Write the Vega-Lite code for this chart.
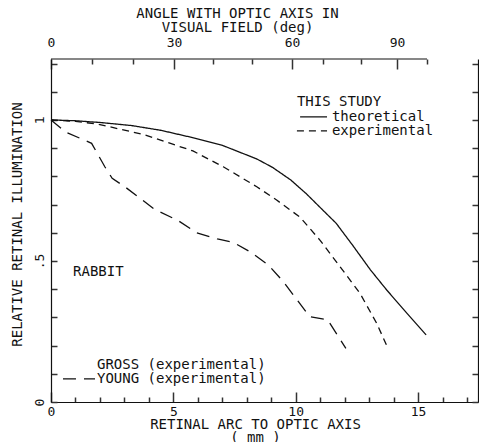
{
  "$schema": "https://vega.github.io/schema/vega-lite/v6.json",
  "width": 427,
  "height": 343,
  "autosize": {"type": "none"},
  "padding": {"left": 51, "top": 59, "right": 1, "bottom": 40},
  "background": "white",
  "config": {
    "view": {"stroke": null},
    "font": "DejaVu Sans Mono",
    "axis": {
      "grid": false,
      "domainColor": "#111",
      "domainWidth": 1.2,
      "labelFont": "DejaVu Sans Mono",
      "labelFontSize": 13,
      "labelColor": "#111",
      "titleFont": "DejaVu Sans Mono",
      "titleFontSize": 14,
      "titleFontWeight": "normal",
      "titleColor": "#111",
      "labelOverlap": false,
      "labelFlush": false
    }
  },
  "datasets": {
    "curves": [
      {"series": "theoretical", "x": 0, "y": 1.0},
      {"series": "theoretical", "x": 1, "y": 0.997},
      {"series": "theoretical", "x": 2, "y": 0.991},
      {"series": "theoretical", "x": 3.3, "y": 0.98},
      {"series": "theoretical", "x": 4.5, "y": 0.963},
      {"series": "theoretical", "x": 5.7, "y": 0.939},
      {"series": "theoretical", "x": 7.0, "y": 0.91},
      {"series": "theoretical", "x": 8.4, "y": 0.862},
      {"series": "theoretical", "x": 9.05, "y": 0.832},
      {"series": "theoretical", "x": 9.8, "y": 0.787},
      {"series": "theoretical", "x": 10.45, "y": 0.737},
      {"series": "theoretical", "x": 11.1, "y": 0.681},
      {"series": "theoretical", "x": 11.65, "y": 0.634},
      {"series": "theoretical", "x": 12.35, "y": 0.553},
      {"series": "theoretical", "x": 13.04, "y": 0.47},
      {"series": "theoretical", "x": 13.72, "y": 0.397},
      {"series": "theoretical", "x": 14.54, "y": 0.315},
      {"series": "theoretical", "x": 15.33, "y": 0.238},
      {"series": "experimental", "x": 0, "y": 1.0},
      {"series": "experimental", "x": 1, "y": 0.995},
      {"series": "experimental", "x": 1.93, "y": 0.985},
      {"series": "experimental", "x": 3.84, "y": 0.947},
      {"series": "experimental", "x": 5.8, "y": 0.89},
      {"series": "experimental", "x": 7.04, "y": 0.834},
      {"series": "experimental", "x": 8.41, "y": 0.763},
      {"series": "experimental", "x": 9.22, "y": 0.716},
      {"series": "experimental", "x": 10.18, "y": 0.655},
      {"series": "experimental", "x": 10.99, "y": 0.574},
      {"series": "experimental", "x": 11.81, "y": 0.48},
      {"series": "experimental", "x": 12.63, "y": 0.385},
      {"series": "experimental", "x": 13.31, "y": 0.279},
      {"series": "experimental", "x": 13.74, "y": 0.196},
      {"series": "Young", "x": 0, "y": 1.0},
      {"series": "Young", "x": 0.6, "y": 0.957},
      {"series": "Young", "x": 1.66, "y": 0.917},
      {"series": "Young", "x": 2.2, "y": 0.834},
      {"series": "Young", "x": 2.5, "y": 0.793},
      {"series": "Young", "x": 3.02, "y": 0.763},
      {"series": "Young", "x": 4.25, "y": 0.682},
      {"series": "Young", "x": 5.2, "y": 0.643},
      {"series": "Young", "x": 5.95, "y": 0.6},
      {"series": "Young", "x": 6.8, "y": 0.578},
      {"series": "Young", "x": 7.45, "y": 0.566},
      {"series": "Young", "x": 8.13, "y": 0.533},
      {"series": "Young", "x": 8.88, "y": 0.486},
      {"series": "Young", "x": 9.49, "y": 0.427},
      {"series": "Young", "x": 10.58, "y": 0.302},
      {"series": "Young", "x": 11.3, "y": 0.292},
      {"series": "Young", "x": 12.05, "y": 0.19}
    ],
    "frame": [
      {"x": 0, "x2": 15.366, "y": 1.216}
    ],
    "keys": [
      {"series": "theoretical", "x": 10.18, "x2": 11.28, "y": 1.011},
      {"series": "experimental", "x": 10.05, "x2": 11.28, "y": 0.961},
      {"series": "Young", "x": 0.49, "x2": 1.8, "y": 0.082}
    ],
    "notes": [
      {"text": "THIS STUDY", "x": 10.05, "y": 1.064},
      {"text": "theoretical", "x": 11.48, "y": 1.011},
      {"text": "experimental", "x": 11.48, "y": 0.961},
      {"text": "RABBIT", "x": 0.9, "y": 0.461},
      {"text": "GROSS (experimental)", "x": 1.88, "y": 0.131},
      {"text": "YOUNG (experimental)", "x": 1.88, "y": 0.082}
    ]
  },
  "resolve": {"axis": {"x": "independent", "y": "independent"}},
  "layer": [
    {
      "data": {"name": "curves"},
      "mark": {"type": "line", "color": "#111", "strokeWidth": 1.3},
      "encoding": {
        "x": {
          "field": "x", "type": "quantitative",
          "scale": {"domain": [0, 17.45], "nice": false, "zero": false},
          "axis": {
            "orient": "bottom",
            "ticks": true,
            "tickColor": "#333333",
            "tickOpacity": 1,
            "tickWidth": 1.5,
            "values": [0, 1, 2, 3, 4, 5, 6, 7, 8, 9, 10, 11, 12, 13, 14, 15, 16, 17],
            "labelExpr": "datum.value % 5 === 0 ? datum.label : ''",
            "tickSize": {"condition": {"test": "datum.value % 5 === 0", "value": -10}, "value": -5},
            "labelPadding": 13,
            "title": ["RETINAL ARC TO OPTIC AXIS", "( mm )"],
            "titleX": 204,
            "titleY": 15,
            "titleBaseline": "top",
            "titleLineHeight": 13
          }
        },
        "y": {
          "field": "y", "type": "quantitative",
          "scale": {"domain": [0, 1.216], "nice": false, "zero": false},
          "axis": {
            "orient": "left",
            "ticks": true,
            "tickColor": "#333333",
            "tickOpacity": 1,
            "tickWidth": 1.5,
            "values": [0, 0.1, 0.2, 0.3, 0.4, 0.5, 0.6, 0.7, 0.8, 0.9, 1.0, 1.1, 1.2],
            "labelExpr": "datum.value === 0 ? '0' : abs(datum.value - 0.5) < 0.001 ? '.5' : abs(datum.value - 1) < 0.001 ? '1' : ''",
            "labelAngle": 270,
            "tickSize": -6,
            "labelPadding": 11,
            "title": "RELATIVE RETINAL ILLUMINATION",
            "titleAngle": 270,
            "titleX": -34,
            "titleY": 165,
            "titleAlign": "center",
            "titleBaseline": "middle"
          }
        },
        "strokeDash": {
          "field": "series", "type": "nominal",
          "scale": {"domain": ["theoretical", "experimental", "Young"], "range": [[1, 0], [7, 5], [13, 8]]},
          "legend": null
        }
      }
    },
    {
      "data": {"name": "frame"},
      "mark": {"type": "rule", "color": "#111", "strokeWidth": 1.2},
      "encoding": {
        "x": {
          "field": "x", "type": "quantitative",
          "axis": {
            "orient": "top",
            "ticks": true,
            "tickColor": "#333333",
            "tickOpacity": 1,
            "tickWidth": 1.5,
            "domain": false,
            "values": [0, 1.676, 3.351, 5.027, 6.62, 8.214, 9.849, 11.116, 12.669, 14.14, 15.366],
            "labelExpr": "datum.value < 0.01 ? '0' : abs(datum.value - 5.027) < 0.01 ? '30' : abs(datum.value - 9.849) < 0.01 ? '60' : abs(datum.value - 14.14) < 0.01 ? '90' : ''",
            "tickSize": {"condition": {"test": "datum.value < 0.01 || abs(datum.value - 5.027) < 0.01 || abs(datum.value - 9.849) < 0.01 || abs(datum.value - 14.14) < 0.01", "value": -10}, "value": -5},
            "labelPadding": 20,
            "title": ["ANGLE WITH OPTIC AXIS IN", "VISUAL FIELD (deg)"],
            "titleX": 186,
            "titleY": -53,
            "titleBaseline": "top",
            "titleLineHeight": 14
          }
        },
        "x2": {"field": "x2"},
        "y": {
          "field": "y", "type": "quantitative",
          "axis": {
            "orient": "right",
            "ticks": true,
            "tickColor": "#333333",
            "tickOpacity": 1,
            "tickWidth": 1.5,
            "values": [0, 0.1, 0.2, 0.3, 0.4, 0.5, 0.6, 0.7, 0.8, 0.9, 1.0, 1.1, 1.2],
            "labels": false,
            "tickSize": -6,
            "title": null
          }
        }
      }
    },
    {
      "data": {"name": "keys"},
      "mark": {"type": "rule", "color": "#111", "strokeWidth": 1.3},
      "encoding": {
        "x": {"field": "x", "type": "quantitative", "axis": null},
        "x2": {"field": "x2"},
        "y": {"field": "y", "type": "quantitative", "axis": null},
        "strokeDash": {
          "field": "series", "type": "nominal",
          "scale": {"domain": ["theoretical", "experimental", "Young"], "range": [[1, 0], [7, 5], [13, 8]]},
          "legend": null
        }
      }
    },
    {
      "data": {"name": "notes"},
      "mark": {"type": "text", "align": "left", "baseline": "middle", "font": "DejaVu Sans Mono", "fontSize": 14, "color": "#111"},
      "encoding": {
        "x": {"field": "x", "type": "quantitative", "axis": null},
        "y": {"field": "y", "type": "quantitative", "axis": null},
        "text": {"field": "text"}
      }
    }
  ]
}
